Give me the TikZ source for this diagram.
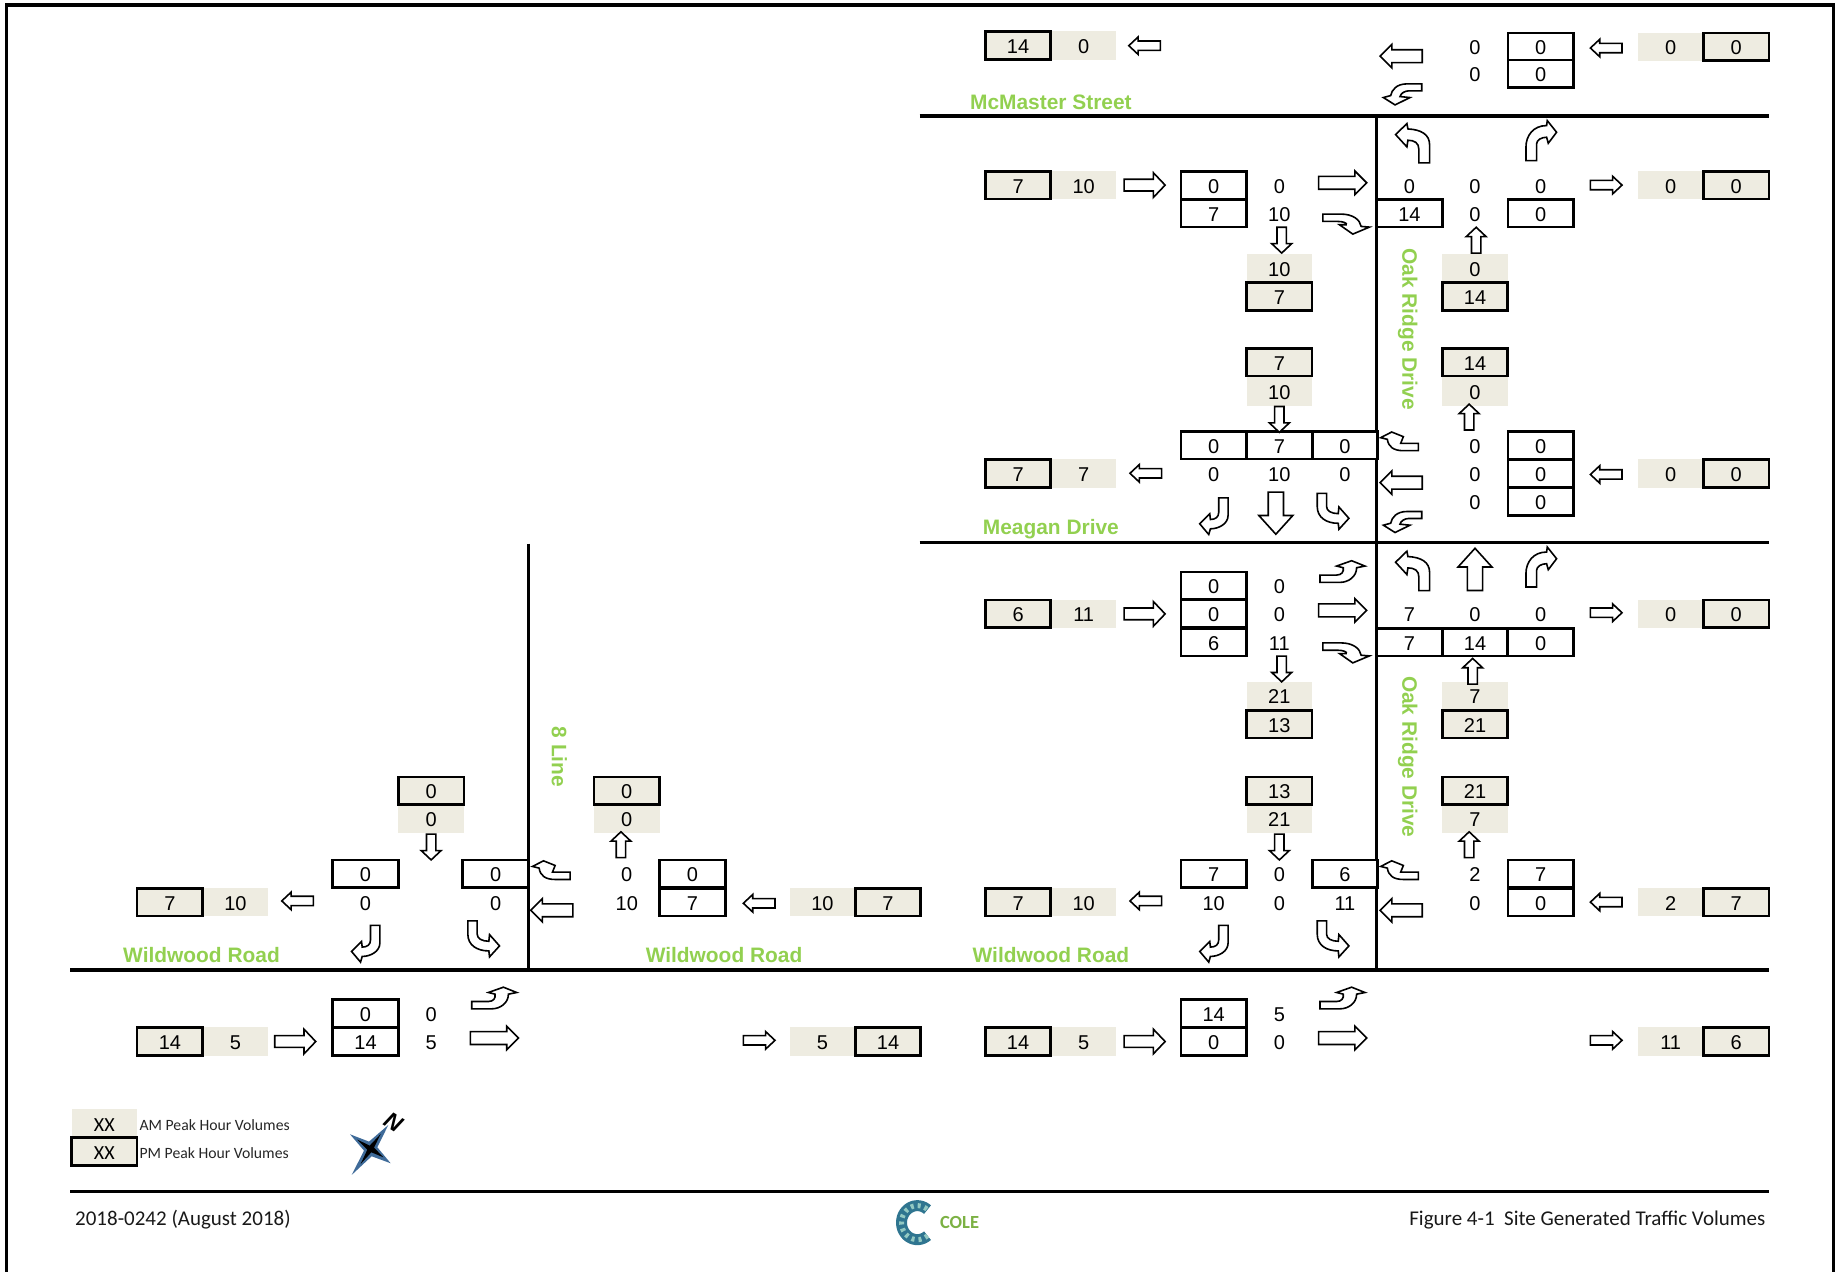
\documentclass[tikz,border=0pt]{standalone}
\usepackage{fontspec}
\setmainfont{Liberation Sans}
\newfontfamily\carlitofont{Carlito}
\definecolor{tanfill}{HTML}{EEECE1}
\definecolor{roadgreen}{HTML}{92D050}
\definecolor{starblue}{HTML}{3F6B99}
\definecolor{logoblue}{HTML}{2F7590}
\definecolor{logolight}{HTML}{93C9C2}
\tikzset{
  cellfont/.style={font=\fontsize{20}{20}\selectfont,text=black,inner sep=0pt,outer sep=0pt,minimum width=65.5pt,minimum height=27.7pt,text height=16pt,text depth=0pt},
  boxcell/.style={cellfont,draw=black,line width=2.7pt,fill=white},
  pmcell/.style={cellfont,draw=black,line width=2.7pt,fill=tanfill},
  amcell/.style={cellfont,fill=tanfill,minimum height=28.5pt},
  plaincell/.style={cellfont},
  legendxx/.style={font=\carlitofont\fontsize{20}{20}\selectfont},
  roadlabel/.style={font=\fontsize{20.9}{22}\bfseries\selectfont,text=roadgreen,inner sep=0pt},
  legendtext/.style={font=\carlitofont\fontsize{15.7}{16}\selectfont,inner sep=0pt,anchor=west,text=black!85},
  foottext/.style={font=\carlitofont\fontsize{21}{21}\selectfont,inner sep=0pt,text=black!90},
  road/.style={line width=3.6pt,draw=black},
  arrowline/.style={draw=black,fill=white,line width=1.6pt,line join=miter},
  pics/blockarrow/.style n args={4}{code={
    \draw[arrowline] ({-#1/2},{-#2/2}) -- ({#1/2-#4},{-#2/2}) -- ({#1/2-#4},{-#3/2}) -- ({#1/2},0)
      -- ({#1/2-#4},{#3/2}) -- ({#1/2-#4},{#2/2}) -- ({-#1/2},{#2/2}) -- cycle;}},
  pics/arrsmall/.style={blockarrow={27}{8}{15}{8}},
  pics/arrmed/.style={blockarrow={35}{10}{21}{10}},
  pics/arrlarge/.style={blockarrow={41}{11}{20}{10}},
  pics/arrwest/.style={blockarrow={36}{11}{20}{10}},
  pics/arrbig/.style={blockarrow={36}{13}{29}{16}},
  pics/arrside/.style={blockarrow={22}{8}{17}{8}},
  pics/turnA/.style={code={\begin{scope}[scale=0.2845,shift={(-790,-450)}]
    \draw[arrowline] (808,510) -- (840,510) -- (840,455) .. controls (840,425) and (815,410) .. (775,408)
      -- (772,392) -- (738,425) -- (772,462) -- (775,442) .. controls (795,442) and (808,450) .. (808,470) -- cycle;
    \end{scope}}},
  pics/turnB/.style={code={\begin{scope}[scale=0.2845,shift={(-1172,-440)}]
    \draw[arrowline] (1128,500) -- (1160,500) -- (1160,450) .. controls (1160,438) and (1175,430) .. (1190,430)
      -- (1195,448) -- (1220,415) -- (1192,380) -- (1190,395) .. controls (1150,395) and (1128,425) .. (1128,460) -- cycle;
    \end{scope}}},
  pics/turnC/.style={code={\begin{scope}[scale=0.2845,shift={(-190,-285)}]
    \draw[arrowline] (205,232) -- (233,232) -- (233,285) .. controls (233,310) and (205,325) .. (180,325)
      -- (175,342) -- (148,310) -- (178,280) -- (180,297) .. controls (195,297) and (205,290) .. (205,275) -- cycle;
    \end{scope}}},
  pics/turnD/.style={code={\begin{scope}[scale=0.2845,shift={(-550,-278)}]
    \draw[arrowline] (502,222) -- (530,222) -- (530,262) .. controls (530,275) and (545,283) .. (565,283)
      -- (567,263) -- (597,297) -- (567,330) -- (565,312) .. controls (530,312) and (502,295) .. (502,262) -- cycle;
    \end{scope}}},
  pics/turnE/.style={code={\begin{scope}[scale=0.2845,shift={(-750,-65)}]
    \draw[arrowline] (805,70) -- (752,70) -- (760,50) -- (725,36) -- (692,53) -- (712,58)
      .. controls (715,80) and (730,92) .. (760,92) -- (805,92) -- cycle;
    \end{scope}}},
  pics/turnF/.style={code={\begin{scope}[scale=0.2845,shift={(-757,-310)}]
    \draw[arrowline] (815,277) -- (770,277) .. controls (740,277) and (725,295) .. (722,312)
      -- (700,318) -- (735,340) -- (780,318) -- (750,315) .. controls (752,305) and (765,298) .. (775,298) -- (815,298) -- cycle;
    \end{scope}}},
  pics/turnG/.style={code={\begin{scope}[scale=0.2845,shift={(-578,-455)}]
    \draw[arrowline] (510,465) -- (560,465) .. controls (575,465) and (582,455) .. (580,443)
      -- (560,438) -- (605,422) -- (645,438) -- (620,443) .. controls (620,470) and (595,487) .. (570,487) -- (510,487) -- cycle;
    \end{scope}}},
  pics/turnH/.style={code={\begin{scope}[scale=0.2845,shift={(-590,-697)}]
    \draw[arrowline] (520,668) -- (575,668) .. controls (610,668) and (632,685) .. (635,705)
      -- (660,707) -- (610,728) -- (570,700) -- (590,700) .. controls (595,695) and (580,690) .. (565,690) -- (520,690) -- cycle;
    \end{scope}}},
}
\begin{document}
\begin{tikzpicture}[x=1.17156pt,y=-1.17156pt]
\useasboundingbox (0,0) rectangle (1568,1085.7);
% frame
\draw[line width=3.6pt] (5.5,1085.7) -- (5.5,4.5) -- (1565,4.5) -- (1565,1085.7);
% roads
\draw[road] (785,99) -- (1510,99);
\draw[road] (785,463) -- (1510,463);
\draw[road] (60,828) -- (1510,828);
\draw[road] (1175,99) -- (1175,828);
\draw[road] (451,464) -- (451,828);
\draw[line width=2.8pt] (60,1017) -- (1510,1017);
% road labels
\node[roadlabel] (lblMc) at (897,87.3) {McMaster Street};
\node[roadlabel] (lblMe) at (897,451.3) {Meagan Drive};
\node[roadlabel] (lblW1) at (172,815.3) {Wildwood Road};
\node[roadlabel] (lblW2) at (618,815.3) {Wildwood Road};
\node[roadlabel] (lblW3) at (897,815.3) {Wildwood Road};
\node[roadlabel,rotate=-90] (lblO1) at (1201.5,281) {Oak Ridge Drive};
\node[roadlabel,rotate=-90] (lblO2) at (1201.5,646) {Oak Ridge Drive};
\node[roadlabel,rotate=-90] (lblL8) at (477.5,646) {8 Line};
% AM cells
\foreach \n/\x/\y/\t in {1/925/39/0,2/1426/40/0,3/925/158/10,4/1092/229/10,5/1426/158/0,6/1259/229/0,
  7/1092/334/10,8/1259/334/0,9/925/404/7,10/1426/404/0,11/925/524/11,12/1092/594/21,13/1426/524/0,14/1259/594/7,
  15/1092/699/21,16/1259/699/7,17/925/770/10,18/1426/770/2,19/925/889/5,20/1426/889/11,21/201/770/10,22/368/699/0,
  23/535/699/0,24/702/770/10,25/201/889/5,26/702/889/5}
  \node[amcell] (am\n) at (\x,\y) {\t};
\node[amcell,legendxx] (am27) at (89,959) {XX};
% PM cells
\foreach \n/\x/\y/\t in {1/869/39/14,2/1482/40/0,3/869/158/7,4/1092/253/7,5/1482/158/0,6/1259/253/14,
  7/1092/309/7,8/1259/309/14,9/869/404/7,10/1482/404/0,11/869/524/6,12/1092/618/13,13/1482/524/0,14/1259/618/21,
  15/1092/675/13,16/1259/675/21,17/869/770/7,18/1482/770/7,19/869/889/14,20/1482/889/6,21/145/770/7,22/368/675/0,
  23/535/675/0,24/758/770/7,25/145/889/14,26/758/889/14}
  \node[pmcell] (pm\n) at (\x,\y) {\t};
\node[pmcell,legendxx] (pm27) at (89,983) {XX};
% white boxed cells
\foreach \n/\x/\y/\t in {1/1315/40/0,2/1315/63/0,3/1036/158/0,4/1036/182/7,5/1203/182/14,6/1315/182/0,
  7/1036/380/0,8/1092/380/7,9/1148/380/0,10/1315/380/0,11/1315/404/0,12/1315/428/0,
  13/1036/500/0,14/1036/524/0,15/1036/548/6,16/1203/548/7,17/1259/548/14,18/1315/548/0,
  19/1036/746/7,20/1148/746/6,21/1315/746/7,22/1315/770/0,23/1036/865/14,24/1036/889/0,
  25/312/746/0,26/423/746/0,27/591/746/0,28/591/770/7,29/312/865/0,30/312/889/14}
  \node[boxcell] (bx\n) at (\x,\y) {\t};
% plain numbers
\foreach \n/\x/\y/\t in {1/1259/40/0,2/1259/63/0,3/1092/158/0,4/1092/182/10,5/1203/158/0,6/1259/158/0,7/1259/182/0,8/1315/158/0,
  9/1036/404/0,10/1092/404/10,11/1148/404/0,12/1259/380/0,13/1259/404/0,14/1259/428/0,
  15/1092/500/0,16/1092/524/0,17/1092/548/11,18/1203/524/7,19/1259/524/0,20/1315/524/0,
  21/1036/770/10,22/1092/746/0,23/1092/770/0,24/1148/770/11,25/1259/746/2,26/1259/770/0,27/1092/865/5,28/1092/889/0,
  29/312/770/0,30/423/770/0,31/535/746/0,32/535/770/10,33/368/865/0,34/368/889/5}
  \node[plaincell] (pl\n) at (\x,\y) {\t};
% legend
\node[legendtext] (legAM) at (119,960) {AM Peak Hour Volumes};
\node[legendtext] (legPM) at (119,984) {PM Peak Hour Volumes};
% footer
\node[foottext,anchor=west] (footL) at (64,1041) {2018-0242 (August 2018)};
\node[foottext,anchor=east] (footR) at (1507,1041) {Figure 4-1\ \ Site Generated Traffic Volumes};
% straight arrows
\foreach \x/\y in {648/888,1371/158,1371/523,1371/888} \pic at (\x,\y) {arrsmall};
\foreach \x/\y in {254/769,648/771,977/39,978/404,978/769,1371/41,1371/405,1371/770} \pic[rotate=180] at (\x,\y) {arrsmall};
\foreach \x/\y in {977/158,977/524,252/889,977/889} \pic at (\x,\y) {arrmed};
\foreach \x/\y in {1146/156,1146/521,422/886,1146/886} \pic at (\x,\y) {arrlarge};
\foreach \x/\y in {1196/48,1196/412,471/777,1196/777} \pic[rotate=180] at (\x,\y) {arrwest};
\pic[rotate=90] at (1259,486) {arrbig};
\pic[rotate=-90] at (1089,438) {arrbig};
\foreach \x/\y in {1260/205,1254/356,1257/573,1254/721,530/721} \pic[rotate=90] at (\x,\y) {arrside};
\foreach \x/\y in {1094/205,1092/358,1094/571,1092/723,368/723} \pic[rotate=-90] at (\x,\y) {arrside};
% turning arrows
\foreach \x/\y in {1206/122,1206/487} \pic at (\x,\y) {turnA};
\foreach \x/\y in {1315/120,1315/484} \pic at (\x,\y) {turnB};
\foreach \x/\y in {1036/440,1036/805,312/805} \pic at (\x,\y) {turnC};
\foreach \x/\y in {1138/437,1138/802,413/802} \pic at (\x,\y) {turnD};
\foreach \x/\y in {1195/377,471/743,1195/743} \pic at (\x,\y) {turnE};
\foreach \x/\y in {1197/81,1197/446} \pic at (\x,\y) {turnF};
\foreach \x/\y in {1146/488,422/852,1146/852} \pic at (\x,\y) {turnG};
\foreach \x/\y in {1149/191,1149/557} \pic at (\x,\y) {turnH};
% north star
\begin{scope}[shift={(316.4,980.7)},scale=0.2845]
\fill[starblue] (53,-72) -- (20,-5) -- (60,43) -- (3,22) -- (-57,78) -- (-20,5) -- (-62,-44) -- (-5,-22) -- cycle;
\fill[black] (30,-45) -- (10,-4) -- (38,25) -- (2,10) -- (-30,45) -- (-10,2) -- (-40,-28) -- (-3,-10) -- cycle;
\end{scope}
\node[font=\fontsize{23}{24}\bfseries\itshape\selectfont,inner sep=0pt,rotate=-32] (north) at (336,958) {N};
% logo
\draw[line width=11pt,draw=logoblue] plot[domain=50:310,samples=40] ({783+13.5*cos(\x)},{1043.6+14.5*sin(\x)});
\draw[line width=5pt,draw=logolight,dash pattern=on 3pt off 4pt] plot[domain=50:310,samples=40] ({783+13.5*cos(\x)},{1043.6+14.5*sin(\x)});
\node[font=\carlitofont\fontsize{18.5}{19}\bfseries\selectfont,text=roadgreen!85!black,inner sep=0pt] (cole) at (819,1043.6) {COLE};
\end{tikzpicture}
\end{document}
